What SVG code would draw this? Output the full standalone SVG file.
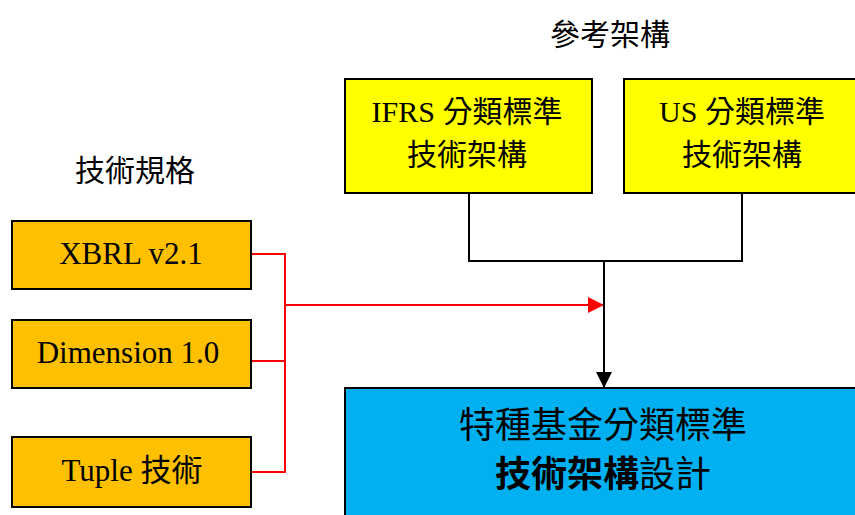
<svg xmlns="http://www.w3.org/2000/svg" width="855" height="515" viewBox="0 0 855 515">
<defs>
<style>
.t{font-family:"Liberation Serif","Noto Sans CJK TC",serif;font-size:30px;fill:#000;text-anchor:middle}
.l{font-size:31px}
.b{font-size:36px}
.box{stroke:#000;stroke-width:2}
.red{fill:none;stroke:#FF0000;stroke-width:2}
.blk{fill:none;stroke:#000;stroke-width:2}
</style>
<marker id="ar" markerWidth="16" markerHeight="16" viewBox="0 0 16 16" refX="16" refY="8" orient="auto" markerUnits="userSpaceOnUse">
<path d="M0,0 L16,8 L0,16 Z" fill="#FF0000"/>
</marker>
<marker id="ab" markerWidth="16" markerHeight="16" viewBox="0 0 16 16" refX="16" refY="8" orient="auto" markerUnits="userSpaceOnUse">
<path d="M0,0 L16,8 L0,16 Z" fill="#000"/>
</marker>
</defs>
<rect width="855" height="515" fill="#fff"/>
<text class="t" x="610" y="45">參考架構</text>
<text class="t" x="135" y="181">技術規格</text>
<g id="connectors">
<polyline class="red" points="251,254 285,254 285,472 251,472"/>
<line class="red" x1="251" y1="361" x2="285" y2="361"/>
<line class="red" x1="285" y1="305" x2="604" y2="305" marker-end="url(#ar)"/>
<polyline class="blk" points="469,193 469,261 742,261 742,193"/>
<line class="blk" x1="604" y1="261" x2="604" y2="388" marker-end="url(#ab)"/>
</g>
<g id="xbrl">
<rect class="box" x="12" y="221" width="239" height="68" fill="#FFC000"/>
<text class="t l" x="131" y="264">XBRL v2.1</text>
</g>
<g id="dimension">
<rect class="box" x="12" y="320" width="239" height="68" fill="#FFC000"/>
<text class="t l" x="128" y="363">Dimension 1.0</text>
</g>
<g id="tuple">
<rect class="box" x="12" y="437" width="239" height="70" fill="#FFC000"/>
<text class="t l" x="132" y="481">Tuple 技術</text>
</g>
<g id="ifrs">
<rect class="box" x="345" y="79" width="247" height="114" fill="#FFFF00"/>
<text class="t" x="467" y="122">IFRS 分類標準</text>
<text class="t" x="467" y="165">技術架構</text>
</g>
<g id="us">
<rect class="box" x="624" y="79" width="240" height="114" fill="#FFFF00"/>
<text class="t" x="742" y="122">US 分類標準</text>
<text class="t" x="742" y="165">技術架構</text>
</g>
<g id="result">
<rect class="box" x="345" y="388" width="520" height="140" fill="#00B0F0"/>
<text class="t b" x="603" y="438">特種基金分類標準</text>
<text class="t b" x="603" y="487"><tspan font-weight="bold">技術架構</tspan>設計</text>
</g>
</svg>
